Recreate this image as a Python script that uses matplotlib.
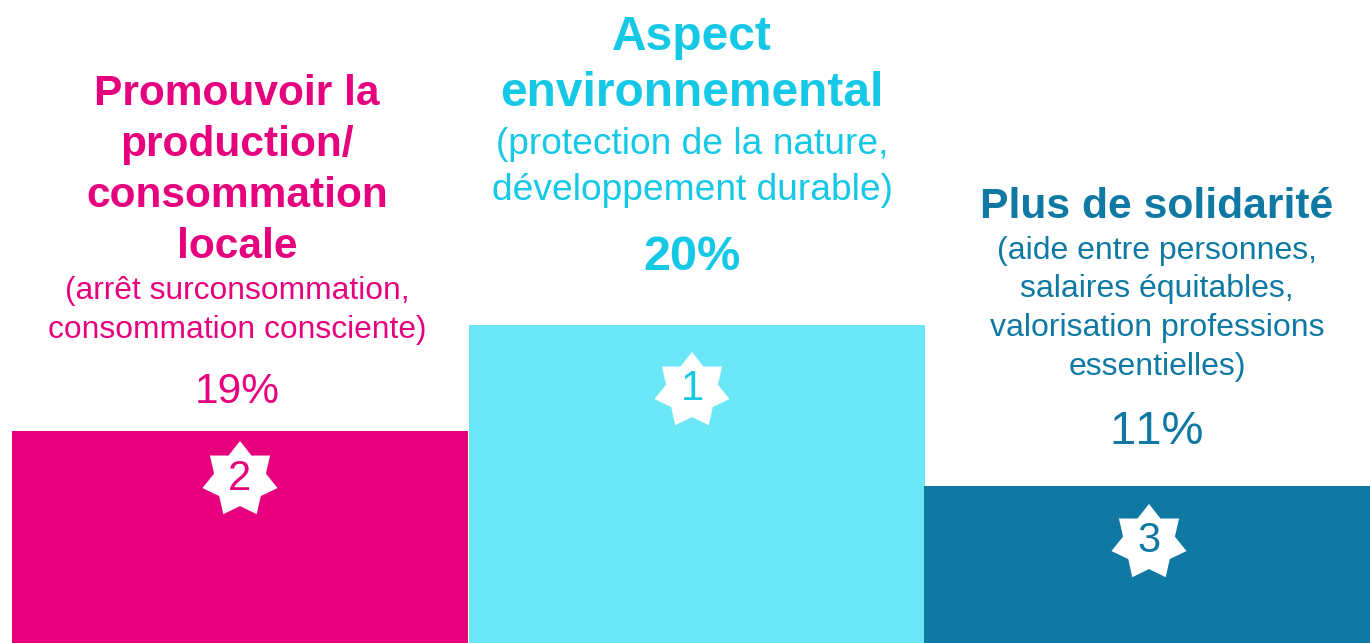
import matplotlib
matplotlib.use('Agg')
import matplotlib.pyplot as plt
from matplotlib.patches import PathPatch
from matplotlib.path import Path
from matplotlib.transforms import Affine2D

plt.rcParams['font.family'] = ['Liberation Sans', 'DejaVu Sans']
plt.rcParams['text.kerning_factor'] = 16  # reference text has no kerning

# podium, left to right
ranks = ['2', '1', '3']
percents = ['19%', '20%', '11%']
heights = [212, 318, 157]
lefts = [12, 469, 924]
widths = [456, 456, 446]
bar_colors = ['#E6007E', '#6BE6F7', '#0F79A3']
text_colors = ['#E6007E', '#14C8E6', '#0F79A3']
titles = [
    ['Promouvoir la', 'production/', 'consommation', 'locale'],
    ['Aspect', 'environnemental'],
    ['Plus de solidarité'],
]
subtitles = [
    ['(arrêt surconsommation,', 'consommation consciente)'],
    ['(protection de la nature,', 'développement durable)'],
    ['(aide entre personnes,', 'salaires équitables,', 'valorisation professions', 'essentielles)'],
]

H = 643
fig = plt.figure(figsize=(13.7, 6.43), dpi=100)
ax = fig.add_axes([0, 0, 1, 1])
ax.set_xlim(0, 1370)
ax.set_ylim(0, H)
ax.axis('off')

ax.bar(lefts, heights, width=widths, align='edge', color=bar_colors, linewidth=0)

# text rows, given in pixels from the top of the image
title_y = [[94, 145, 196, 247], [37, 94], [207]]
sub_y = [[291, 330], [145, 190], [251, 289, 328, 367]]
pct_y = [392, 258, 432]
text_x = [237, 692, 1157]
star_xy = [(240, 479.5), (692, 390.5), (1149, 542.5)]
pct_size = [30.5, 35, 34]
pct_weight = ['normal', 'bold', 'normal']
title_size = [30.6, 34.5, 30.7]
sub_size = [22.9, 26.7, 23]

star = Path.unit_regular_star(7, innerCircle=0.69)

for i in range(3):
    c = text_colors[i]
    for j, line in enumerate(titles[i]):
        ax.text(text_x[i], H - title_y[i][j], line, color=c, fontsize=title_size[i],
                fontweight='bold', ha='center', va='center')
    for j, line in enumerate(subtitles[i]):
        ax.text(text_x[i], H - sub_y[i][j], line, color=c,
                fontsize=sub_size[i], ha='center', va='center')
    ax.text(text_x[i], H - pct_y[i], percents[i], color=c, fontsize=pct_size[i],
            fontweight=pct_weight[i], ha='center', va='center')
    sx, sy = star_xy[i][0], H - star_xy[i][1]
    ax.add_patch(PathPatch(star, transform=Affine2D().scale(38.5).translate(sx, sy) + ax.transData,
                           facecolor='white', linewidth=0, zorder=3))
    ax.text(sx, sy + 1, ranks[i], color=c, fontsize=30, ha='center', va='center', zorder=4)

fig.savefig('out.png', dpi=100)
